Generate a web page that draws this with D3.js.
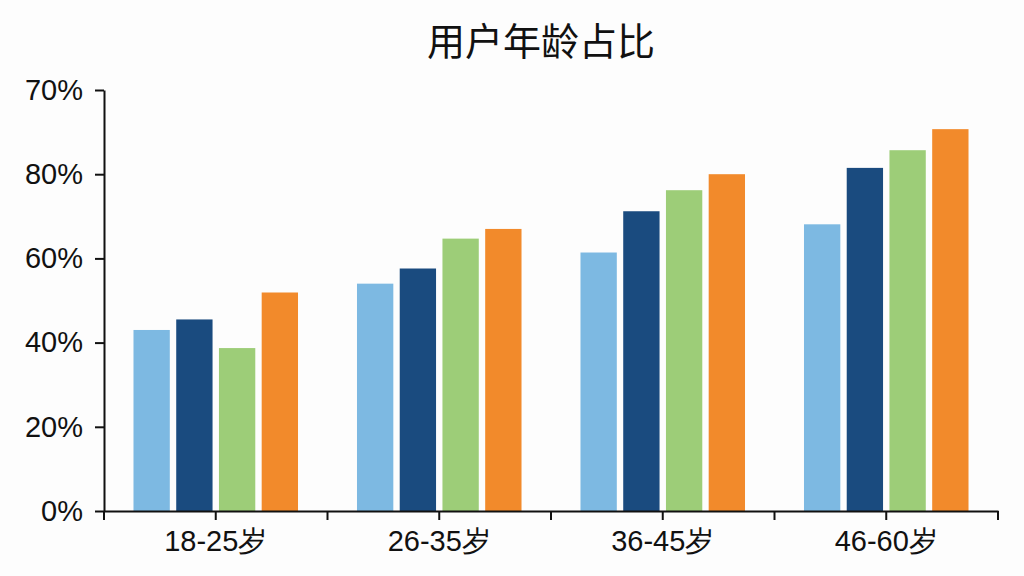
<!DOCTYPE html>
<html>
<head>
<meta charset="utf-8">
<script src="https://cdn.jsdelivr.net/npm/d3@7"></script>
<style>
  html, body { margin: 0; padding: 0; background: #fdfdfd; }
  svg { display: block; font-family: "Liberation Sans", Arial, "Noto Sans CJK SC", sans-serif; }
</style>
</head>
<body>
<div id="chart"></div>
<script>
// chart data
const title = '用户年龄占比';
const categories = ['18-25岁', '26-35岁', '36-45岁', '46-60岁'];
const seriesNames = ['A', 'B', 'C', 'D'];
const seriesA = [43, 54, 61.4, 68.1];
const seriesB = [45.5, 57.6, 71.2, 81.5];
const seriesC = [38.7, 64.7, 76.2, 85.7];
const seriesD = [51.9, 67, 80, 90.7];
const tickValues = [0, 20, 40, 60, 80, 100];
const tickLabels = ['0%', '20%', '40%', '60%', '80%', '70%'];
const colors = ['#7db9e2', '#1a4b7f', '#9dcd78', '#f28a2b'];

const width = 1024, height = 576;
const margin = { top: 90, right: 26, bottom: 65, left: 104 };

const svg = d3.select('#chart')
    .append('svg')
    .attr('width', width)
    .attr('height', height);

svg.append('rect')
    .attr('width', width)
    .attr('height', height)
    .attr('fill', '#fdfdfd');

const x = d3.scaleBand()
    .domain(categories)
    .range([margin.left, width - margin.right])
    .paddingInner(0)
    .paddingOuter(0);

const xInner = d3.scaleBand()
    .domain(seriesNames)
    .range([0, x.bandwidth()])
    .paddingInner(0.15)
    .paddingOuter(0.69);

const y = d3.scaleLinear()
    .domain([0, 100])
    .range([height - margin.bottom, margin.top]);

const allSeries = [seriesA, seriesB, seriesC, seriesD];
const rows = categories.map((c, i) => ({
    cat: c,
    vals: seriesNames.map((s, j) => ({ key: s, value: allSeries[j][i], color: colors[j] }))
}));

// bars
const groups = svg.selectAll('.group')
    .data(rows)
    .enter()
    .append('g')
    .attr('class', 'group')
    .attr('transform', d => `translate(${x(d.cat)},0)`);

groups.selectAll('rect')
    .data(d => d.vals)
    .enter()
    .append('rect')
    .attr('x', d => xInner(d.key))
    .attr('y', d => y(d.value))
    .attr('width', xInner.bandwidth())
    .attr('height', d => y(0) - y(d.value))
    .attr('fill', d => d.color);

// y axis
const yAxis = svg.append('g')
    .attr('transform', `translate(${margin.left},0)`)
    .call(d3.axisLeft(y)
        .tickValues(tickValues)
        .tickFormat((d, i) => tickLabels[i])
        .tickSize(9)
        .tickPadding(12)
        .tickSizeOuter(0));
yAxis.select('.domain').attr('stroke', '#111').attr('stroke-width', 2);
yAxis.selectAll('.tick line').attr('stroke', '#111').attr('stroke-width', 2);
yAxis.selectAll('.tick text')
    .attr('fill', '#111')
    .style('font-size', '29px');

// x axis
const xAxis = svg.append('g')
    .attr('transform', `translate(0,${y(0)})`)
    .call(d3.axisBottom(x)
        .tickSize(9)
        .tickPadding(10)
        .tickSizeOuter(0));
xAxis.select('.domain').attr('stroke', '#111').attr('stroke-width', 2);
xAxis.selectAll('.tick line').attr('stroke', '#111').attr('stroke-width', 2);
xAxis.selectAll('.tick text')
    .attr('fill', '#111')
    .style('font-size', '29px');

// boundary ticks between groups
const edges = categories.map(c => x(c)).concat([x.range()[1]]);
xAxis.selectAll('.edge')
    .data(edges)
    .enter()
    .append('line')
    .attr('class', 'edge')
    .attr('x1', d => d)
    .attr('x2', d => d)
    .attr('y1', 0)
    .attr('y2', 9)
    .attr('stroke', '#111')
    .attr('stroke-width', 2);

// title
svg.append('text')
    .attr('x', 541)
    .attr('y', 55)
    .attr('text-anchor', 'middle')
    .attr('fill', '#111')
    .style('font-family', '"Noto Sans CJK SC", sans-serif')
    .style('font-size', '38px')
    .text(title);
</script>
</body>
</html>
